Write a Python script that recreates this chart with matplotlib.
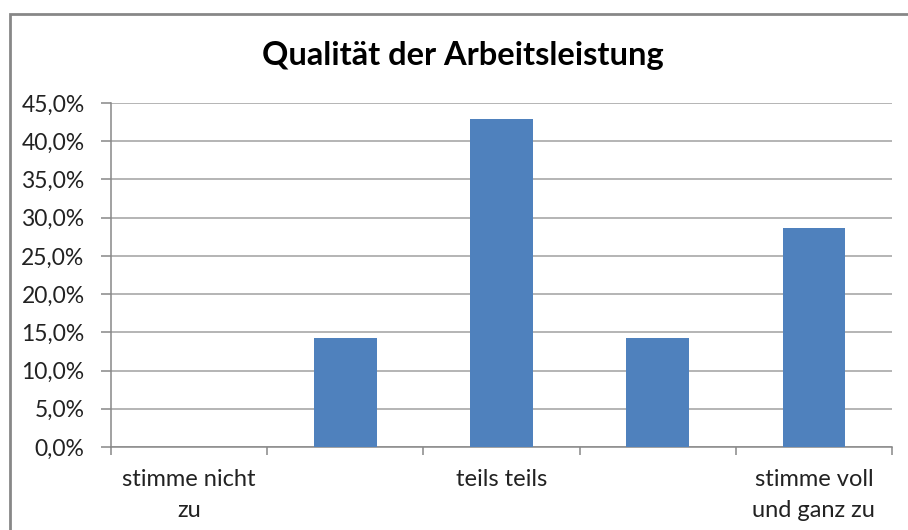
import matplotlib
matplotlib.use("Agg")
import matplotlib.pyplot as plt
from matplotlib.patches import Rectangle

categories = ["stimme nicht\nzu", "", "teils teils", "", "stimme voll\nund ganz zu"]
values = [0.0, 14.3, 42.9, 14.3, 28.6]
yticks = [0, 5, 10, 15, 20, 25, 30, 35, 40, 45]
ytick_labels = [f"{v:.1f}%".replace(".", ",") for v in yticks]
title = "Qualität der Arbeitsleistung"

plt.rcParams['font.family'] = ['Lato', 'DejaVu Sans']

fig = plt.figure(figsize=(9.08, 5.30), dpi=100)
W, H = 908, 530
ax = fig.add_axes([111 / W, 1 - 447 / H, (892 - 111) / W, (447 - 103) / H])

x = list(range(len(categories)))
ax.bar(x, values, width=0.4, color="#4F81BD", zorder=3)
ax.set_xlim(-0.5, len(categories) - 0.5)
ax.set_ylim(0, 45)
ax.set_yticks(yticks)
ax.set_yticklabels(ytick_labels, fontsize=16.5, color="#222222")
ax.yaxis.grid(True, color="#A0A0A0", linewidth=1.1, zorder=0)
ax.set_xticks([i - 0.5 for i in range(len(categories) + 1)], minor=False)
ax.set_xticklabels([])
ax.set_xticks(x, minor=True)
ax.set_xticklabels(categories, minor=True, fontsize=17, color="#222222", linespacing=1.55)
ax.tick_params(axis="x", which="minor", length=0, pad=16)
ax.tick_params(axis="x", which="major", length=6, color="#888888", width=1.1, direction="out")
ax.tick_params(axis="y", length=7, color="#888888", width=1.1, pad=12)
for s in ["top", "right"]:
    ax.spines[s].set_visible(False)
for s in ["left", "bottom"]:
    ax.spines[s].set_color("#888888")
    ax.spines[s].set_linewidth(1.1)

fig.text(463 / W, 1 - 55 / H, title, ha="center", va="center",
         fontsize=23.5, fontweight="bold", color="#000000")

fig.patches.append(Rectangle((9.5 / W, -0.1), 1.2, 1 - 13.5 / H + 0.1,
                             transform=fig.transFigure, fill=False,
                             edgecolor="#878787", linewidth=2.0))

fig.savefig("out.png", dpi=100)
